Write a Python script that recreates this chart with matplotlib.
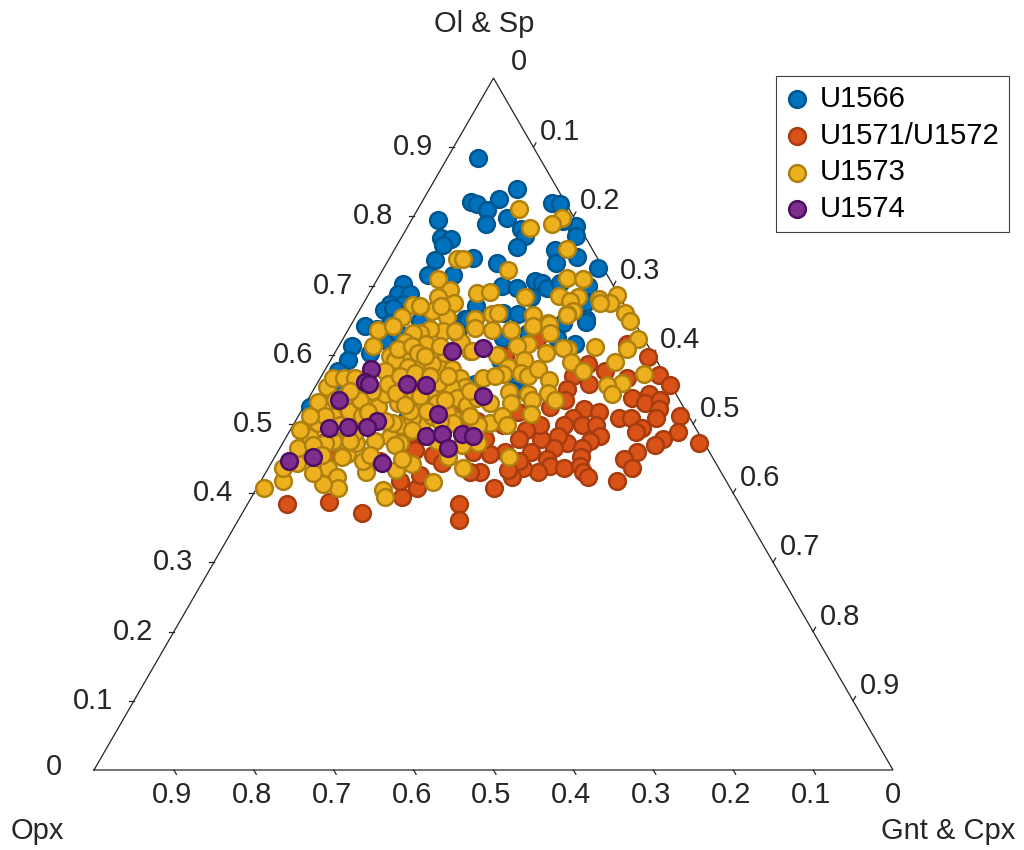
import numpy as np
import matplotlib
matplotlib.use("Agg")
import matplotlib.pyplot as plt

plt.rcParams["font.family"] = ["Liberation Sans", "DejaVu Sans"]

# ternary compositions: Ol & Sp, Gnt & Cpx (Opx is the rest)
u1566_ol = [.885,.840,.825,.821,.818,.810,.798,.789,.820,.818,.795,.782,.772,.756,.786,.772,.794,.769,.768,.759,
            .737,.740,.733,.752,.742,.732,.726,.716,.716,.703,.688,.688,.674,.665,.674,.700,.697,.707,.704,.697,
            .683,.700,.675,.704,.670,.661,.659,.652,.652,.642,.638,.613,.603,.593,.577,.620,.524,.522,.668,.632,
            .512,.645,.632,.652,.648,.646,.631,.625,.625,.616,.592,.558,.558,.548,.646,.649,.558]
u1566_gnt = [.038,.109,.094,.061,.070,.087,.118,.096,.163,.174,.033,.143,.153,.151,.210,.217,.190,.050,.063,.057,
             .058,.104,.138,.201,.234,.212,.268,.060,.091,.035,.036,.052,.033,.030,.050,.161,.181,.198,.209,.219,
             .205,.268,.277,.231,.143,.181,.201,.138,.290,.018,.035,.016,.044,.021,.017,.057,.008,.018,.040,.064,
             .137,.148,.138,.142,.292,.264,.228,.199,.267,.294,.212,.250,.198,.250,.047,.083,.023]

u1571_ol = [.597,.616,.571,.556,.587,.576,.567,.570,.558,.551,.538,.544,.530,.535,.522,.509,.511,.489,.472,.509,
            .509,.494,.488,.479,.470,.459,.449,.437,.418,.522,.518,.509,.498,.499,.499,.483,.475,.472,.482,.465,
            .465,.479,.498,.492,.479,.459,.450,.440,.436,.452,.440,.430,.423,.431,.436,.447,.424,.459,.433,.456,
            .407,.431,.431,.459,.479,.498,.517,.524,.534,.384,.361,.384,.387,.371,.394,.407,.426,.418,.486,.463,
            .455,.444,.505,.455,.472,.527,.486,.509,.623,.599,.447]
u1571_gnt = [.395,.359,.422,.443,.325,.352,.384,.315,.341,.317,.404,.423,.425,.441,.446,.449,.478,.487,.521,.403,
             .417,.439,.434,.473,.467,.450,.439,.455,.446,.352,.373,.345,.339,.361,.379,.392,.383,.356,.340,.378,
             .343,.320,.309,.295,.292,.318,.342,.351,.370,.384,.388,.397,.407,.340,.319,.309,.311,.285,.302,.268,
             .297,.268,.255,.245,.250,.263,.272,.309,.323,.265,.276,.050,.100,.150,.188,.201,.195,.174,.159,.170,
             .197,.214,.227,.074,.049,.191,.153,.207,.243,.215,.134]

u1573_ol = [.811,.784,.798,.789,.753,.739,.739,.723,.711,.709,.710,.694,.683,.675,.672,.664,.655,.655,.690,.691,
            .684,.685,.683,.678,.687,.675,.680,.661,.649,.664,.659,.652,.659,.661,.657,.646,.636,.642,.613,.671,
            .635,.638,.631,.631,.615,.618,.602,.599,.592,.583,.584,.584,.587,.580,.576,.567,.606,.618,.639,.567,
            .553,.553,.560,.544,.541,.531,.538,.527,.537,.502,.509,.512,.502,.476,.452,.437,.442,.416,.433,.404,
            .394,.430,.456,.452,.437,.423,.408,.413,.429,.418,.408,.437,.443,.466,.496,.481,.532,.553,.567,.567,
            .566,.538,.512,.519,.534,.524,.544,.530,.548,.512,.481,.498,.472,.476,.473,.476,.447,.501,.501,.473,
            .512,.509,.519,.517,.495,.488,.495,.519,.558,.545,.636,.636,.641,.645,.631,.658,.675,.623,.609,.612,
            .609,.610,.589,.576,.589,.573,.560,.557,.543,.602,.615,.613,.600,.605,.593,.583,.574,.570,.580,.573,
            .569,.563,.545,.535,.544,.534,.547,.531,.514,.530,.512,.498,.473,.498,.452,.502,
            .609,.613,.603,.570,.574,.570,.603,.570,.599,.534,.541,.534,.548,.517,.505,.527,.491,.469,.450,.455,
            .476,.498,.512,.512,.491,.469,.455,.534,.548,.512,.469,.505,.541,.671,.613,.635]
u1573_gnt = [.127,.154,.187,.179,.215,.085,.092,.157,.236,.257,.076,.099,.089,.113,.063,.091,.058,.114,.134,.150,
             .197,.239,.264,.257,.311,.308,.292,.334,.346,.268,.262,.151,.169,.175,.221,.245,.037,.053,.043,.099,
             .119,.102,.092,.084,.108,.080,.088,.071,.081,.102,.120,.141,.130,.158,.076,.175,.168,.150,.157,.203,
             .188,.170,.151,.130,.150,.164,.185,.203,.211,.245,.195,.155,.160,.191,.217,.243,.177,.216,.161,.160,
             .167,.125,.089,.084,.074,.093,.101,.080,.060,.028,.009,.018,.032,.022,.019,.030,.014,.015,.015,.030,
             .044,.059,.043,.060,.075,.093,.092,.115,.074,.079,.130,.134,.147,.114,.092,.061,.113,.124,.030,.052,
             .167,.144,.157,.183,.051,.083,.067,.136,.089,.106,.180,.204,.229,.247,.255,.263,.296,.369,.362,.321,
             .289,.282,.302,.324,.358,.402,.381,.364,.377,.265,.236,.223,.204,.170,.242,.227,.247,.258,.266,.225,
             .218,.288,.296,.309,.271,.281,.246,.256,.290,.231,.255,.268,.244,.232,.293,.198,
             .076,.092,.104,.098,.115,.136,.138,.158,.115,.066,.044,.035,.046,.084,.112,.126,.153,.142,.160,.118,
             .082,.059,.033,.014,.012,.040,.058,.172,.197,.215,.226,.180,.138,.072,.126,.134]

u1574_ol = [.605,.610,.580,.561,.558,.558,.556,.541,.534,.514,.504,.496,.496,.494,.482,.486,.486,.483,.465,.453,.446,.444]
u1574_gnt = [.146,.182,.057,.059,.065,.113,.138,.216,.040,.174,.102,.094,.070,.047,.175,.192,.217,.233,.211,.048,.021,.138]

ticks = [0.1, 0.2, 0.3, 0.4, 0.5, 0.6, 0.7, 0.8, 0.9]
tick_labels = ["0.1", "0.2", "0.3", "0.4", "0.5", "0.6", "0.7", "0.8", "0.9"]

H = np.sqrt(3) / 2
TEXT = "#262626"
FS = 21


def to_xy(ol, gnt):
    ol = np.asarray(ol)
    return np.asarray(gnt) + ol / 2, ol * H


# 799 px per unit, triangle corners at px (94,770), (893,770), (494,77)
fig = plt.figure(figsize=(10.24, 8.5), dpi=100)
ax = fig.add_axes([0, 0, 1, 1])
ax.set_xlim(-94 / 799, 930 / 799)
ax.set_ylim(-80 / 799, 770 / 799)
ax.axis("off")

ax.plot([0, 1, 0.5, 0], [0, 0, H, 0], color=TEXT, lw=0.9, solid_joinstyle="miter", zorder=1)

tl = 5 / 799
for t, lab in zip(ticks, tick_labels):
    # left edge: Ol & Sp
    x, y = to_xy(t, 0)
    ax.plot([x - tl, x], [y, y], color=TEXT, lw=0.9, zorder=1)
    ax.text(x - 41 / 799, y, lab, fontsize=FS, color=TEXT, ha="center", va="center")
    # right edge: Gnt & Cpx
    x, y = to_xy(1 - t, t)
    ax.plot([x, x + tl * 0.5], [y, y + tl * H], color=TEXT, lw=0.9, zorder=1)
    ax.text(x + 27 / 799, y + 15 / 799, lab, fontsize=FS, color=TEXT, ha="center", va="center")
    # bottom edge: Opx
    x, y = to_xy(0, 1 - t)
    ax.plot([x, x + tl * 0.5], [y, y - tl * H], color=TEXT, lw=0.9, zorder=1)
    ax.text(x - 2 / 799, y - 25 / 799, lab, fontsize=FS, color=TEXT, ha="center", va="center")

ax.text(-40 / 799, 3 / 799, "0", fontsize=FS, color=TEXT, ha="center", va="center")
ax.text(0.5 + 25 / 799, H + 16 / 799, "0", fontsize=FS, color=TEXT, ha="center", va="center")
ax.text(1, -25 / 799, "0", fontsize=FS, color=TEXT, ha="center", va="center")

ax.text(0.5 - 9 / 799, H + 54 / 799, "Ol & Sp", fontsize=FS, color=TEXT, ha="center", va="center")
ax.text(-57 / 799, -61 / 799, "Opx", fontsize=FS, color=TEXT, ha="center", va="center")
ax.text(1 + 55 / 799, -61 / 799, "Gnt & Cpx", fontsize=FS, color=TEXT, ha="center", va="center")

series = [
    ("U1566", u1566_ol, u1566_gnt, "#0072BD", "#00568F"),
    ("U1571/U1572", u1571_ol, u1571_gnt, "#D95319", "#A63C0F"),
    ("U1573", u1573_ol, u1573_gnt, "#EDB120", "#AE800F"),
    ("U1574", u1574_ol, u1574_gnt, "#7E2F8E", "#4E0F63"),
]
for name, ol, gnt, face, edge in series:
    x, y = to_xy(ol, gnt)
    ax.scatter(x, y, s=145, c=face, edgecolors=edge, linewidths=1.8, label=name, zorder=3)

leg = ax.legend(loc="upper left", bbox_to_anchor=(776 / 1024, 1 - 76 / 850), borderaxespad=0,
                fontsize=FS, frameon=True, fancybox=False, framealpha=1, edgecolor="#404040",
                labelspacing=0.3, handletextpad=0.37, borderpad=0.3, handlelength=0.84, labelcolor="black")
leg.get_frame().set_linewidth(0.8)

fig.savefig("out.png", dpi=100)
